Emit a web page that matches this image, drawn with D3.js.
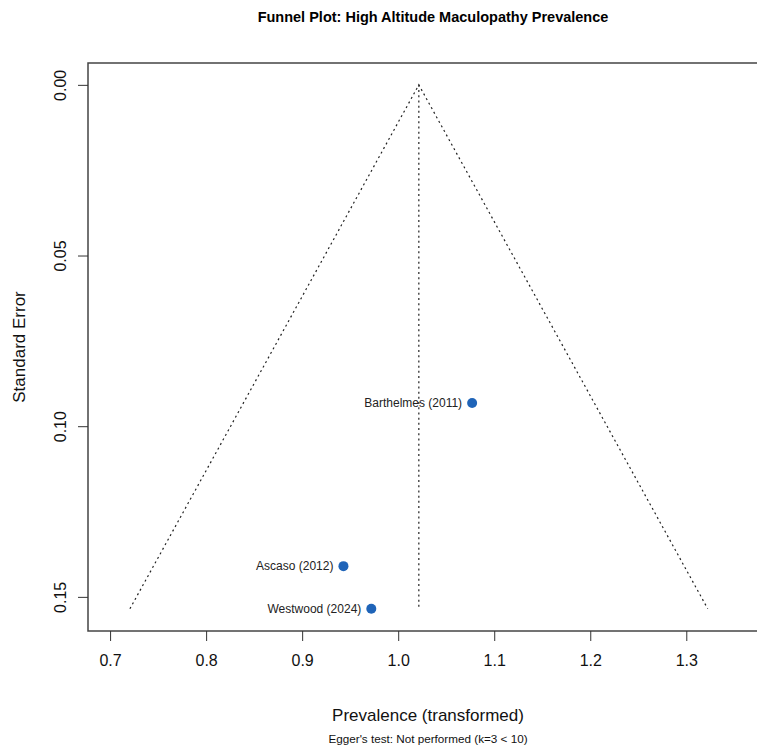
<!DOCTYPE html>
<html>
<head>
<meta charset="utf-8">
<script src="https://cdn.jsdelivr.net/npm/d3@7"></script>
<style>
  body { margin: 0; background: #fff; }
  svg { display: block; font-family: "Liberation Sans", Arial, sans-serif; }
</style>
</head>
<body>
<div id="chart"></div>
<script>
// study data
const studies = ["Barthelmes (2011)", "Ascaso (2012)", "Westwood (2024)"];
const effects = [1.077, 0.943, 0.972];
const stdErrors = [0.0932, 0.141, 0.1535];

// pooled estimate and funnel
const pooled = 1.0215;
const seMax = 0.1535;

const xTicks = [0.7, 0.8, 0.9, 1.0, 1.1, 1.2, 1.3];
const yTicks = [0.00, 0.05, 0.10, 0.15];

const width = 757, height = 749;
const plot = { left: 88, right: 778, top: 63, bottom: 631 };

const svg = d3.select("#chart").append("svg")
    .attr("width", width)
    .attr("height", height);

const x = d3.scaleLinear().domain([0.677, 1.3955]).range([plot.left, plot.right]);
const y = d3.scaleLinear().domain([-0.0064, 0.1600]).range([plot.top, plot.bottom]);

// title
svg.append("text")
    .attr("x", 433).attr("y", 22)
    .attr("text-anchor", "middle")
    .style("font-size", "14.5px").style("font-weight", "bold")
    .text("Funnel Plot: High Altitude Maculopathy Prevalence");

// funnel lines
const dotted = "2,3.2";
const funnel = [[pooled - 1.96 * seMax, seMax], [pooled, 0], [pooled + 1.96 * seMax, seMax]];
svg.append("path")
    .attr("d", d3.line().x(d => x(d[0])).y(d => y(d[1]))(funnel))
    .attr("fill", "none").attr("stroke", "#222").attr("stroke-width", 1.2)
    .attr("stroke-dasharray", dotted);

svg.append("line")
    .attr("x1", x(pooled)).attr("x2", x(pooled))
    .attr("y1", y(0)).attr("y2", y(seMax))
    .attr("stroke", "#222").attr("stroke-width", 1.2)
    .attr("stroke-dasharray", dotted);

// points
const pts = svg.append("g");
studies.forEach((s, i) => {
    pts.append("circle")
        .attr("cx", x(effects[i])).attr("cy", y(stdErrors[i]))
        .attr("r", 5).attr("fill", "#1f64b8");
    pts.append("text")
        .attr("x", x(effects[i]) - 10).attr("y", y(stdErrors[i]) + 4)
        .attr("text-anchor", "end")
        .style("font-size", "12px").attr("fill", "#222")
        .text(s);
});

// box
svg.append("rect")
    .attr("x", plot.left).attr("y", plot.top)
    .attr("width", plot.right - plot.left).attr("height", plot.bottom - plot.top)
    .attr("fill", "none").attr("stroke", "#444").attr("stroke-width", 1.5);

// x axis
const xAxis = svg.append("g").attr("transform", `translate(0,${plot.bottom})`)
    .call(d3.axisBottom(x).tickValues(xTicks).tickFormat(d3.format(".1f")).tickSize(10).tickPadding(14));
xAxis.select(".domain").remove();
xAxis.selectAll("text").style("font-size", "16px").attr("fill", "#111").attr("font-family", "Liberation Sans, Arial, sans-serif");
xAxis.selectAll("line").attr("stroke", "#333");

// y axis
const yAxis = svg.append("g").attr("transform", `translate(${plot.left},0)`)
    .call(d3.axisLeft(y).tickValues(yTicks).tickFormat(d3.format(".2f")).tickSize(10));
yAxis.select(".domain").remove();
yAxis.selectAll("line").attr("stroke", "#333");
yAxis.selectAll("text")
    .attr("x", null).attr("dy", null)
    .attr("text-anchor", "middle")
    .attr("transform", "translate(-22,0) rotate(-90)")
    .style("font-size", "16px").attr("fill", "#111").attr("font-family", "Liberation Sans, Arial, sans-serif");

// axis labels
svg.append("text")
    .attr("x", 428).attr("y", 721)
    .attr("text-anchor", "middle")
    .style("font-size", "17px").attr("fill", "#111")
    .text("Prevalence (transformed)");

svg.append("text")
    .attr("x", 428).attr("y", 743)
    .attr("text-anchor", "middle")
    .style("font-size", "11.7px").attr("fill", "#111")
    .text("Egger's test: Not performed (k=3 < 10)");

svg.append("text")
    .attr("transform", `translate(25,${(plot.top + plot.bottom) / 2}) rotate(-90)`)
    .attr("text-anchor", "middle")
    .style("font-size", "17px").attr("fill", "#111")
    .text("Standard Error");
</script>
</body>
</html>
